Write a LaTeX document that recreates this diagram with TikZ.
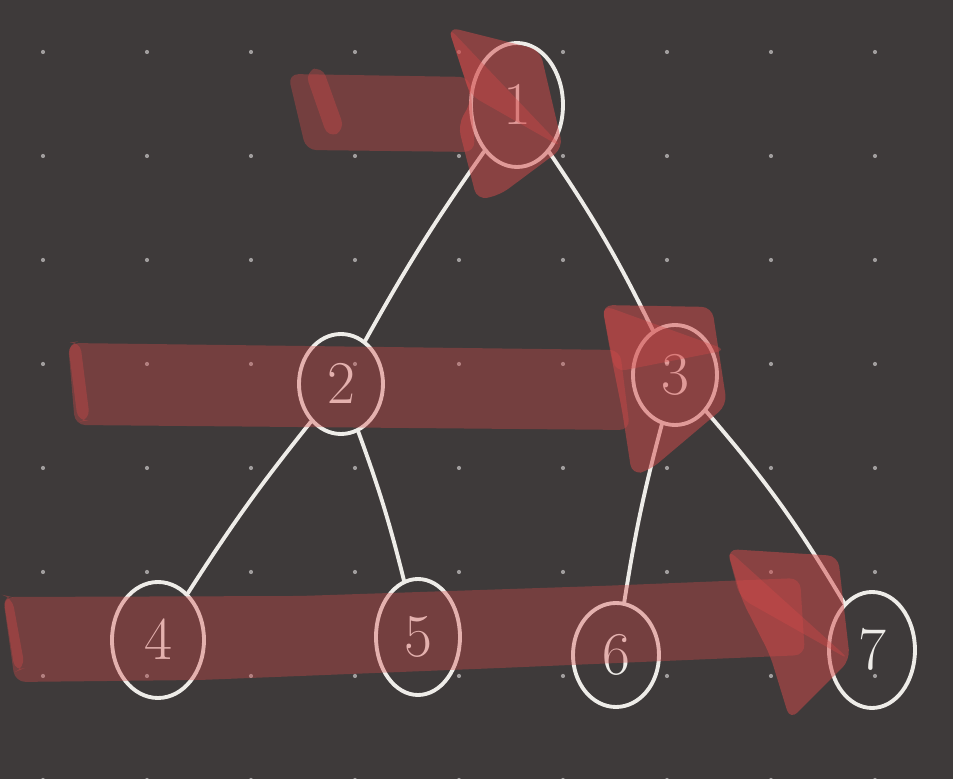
\documentclass[tikz,border=0pt]{standalone}
\usepackage{amssymb, amsmath}
\usepackage{tikz}
\usetikzlibrary{shapes.geometric}
\definecolor{board}{RGB}{62,58,58}
\definecolor{chalk}{RGB}{238,236,232}
\definecolor{marker}{RGB}{212,74,74}
\definecolor{griddot}{RGB}{160,157,157}
\tikzset{
  treenode/.style={draw=chalk,ellipse,line width=1.1pt,inner sep=0pt,text=chalk,font=\LARGE},
  treeedge/.style={chalk,line width=1.1pt,line cap=round},
  stroke/.style={fill=marker,fill opacity=0.36,draw=none,rounded corners=3},
  head/.style={stroke,fill opacity=0.5}
}
\begin{document}
\begin{tikzpicture}[x=0.01cm,y=-0.01cm]
\fill[board] (0,0) rectangle (953,779);
\useasboundingbox (0,0) rectangle (953,779);
\foreach \x in {0,...,8}{
\foreach \y in {0,...,7}{
\fill[griddot] (43+\x*104,52+\y*104) circle (2.1);
}}
\foreach \n/\x/\y/\w/\h in {1/517/105/92/124, 2/341/384/84/100, 3/675/375/84/100, 4/158/640/92/116, 5/418/637/84/116, 6/616/655/86/104, 7/872/650/86/116}{
\node[treenode,minimum width=\w*0.01cm,minimum height=\h*0.01cm] at (\x,\y) (a\n) {$\n$};
}
\draw[treeedge] (a1) to[bend right=3] (a2);
\draw[treeedge] (a1) to[bend left=4] (a3);
\draw[treeedge] (a2) to[bend right=3] (a4);
\draw[treeedge] (a2) to[bend left=3] (a5);
\draw[treeedge] (a3) to[bend right=3] (a6);
\draw[treeedge] (a3) to[bend left=5] (a7);
% level 0
\fill[stroke] (288,74) -- (470,77) -- (475,152) -- (306,150) -- cycle;
\fill[stroke] (305,72) -- (322,66) -- (345,130) -- (328,138) -- cycle;
\fill[head] (448,27) -- (540,50) -- (563,148) -- (500,195) -- (477,200) -- (458,125) -- (472,100) -- cycle;
\fill[stroke] (448,27) -- (563,148) -- (470,95) -- cycle;
% level 1
\fill[stroke] (68,343) -- (620,350) -- (630,430) -- (75,425) -- cycle;
\fill[stroke] (68,343) -- (80,341) -- (90,420) -- (78,422) -- cycle;
\fill[head] (602,305) -- (712,307) -- (727,405) -- (650,470) -- (632,475) -- (622,410) -- (610,350) -- cycle;
\fill[stroke] (602,305) -- (727,350) -- (615,372) -- cycle;
% level 2
\fill[stroke] (3,597) -- (300,596) -- (600,586) -- (800,578) -- (805,655) -- (500,668) -- (200,680) -- (15,682) -- cycle;
\fill[stroke] (3,595) -- (12,597) -- (25,668) -- (15,672) -- cycle;
\fill[head] (727,549) -- (838,556) -- (850,660) -- (790,720) -- (770,655) -- (742,600) -- cycle;
\fill[stroke] (727,549) -- (850,660) -- (740,598) -- cycle;
\end{tikzpicture}
\end{document}
